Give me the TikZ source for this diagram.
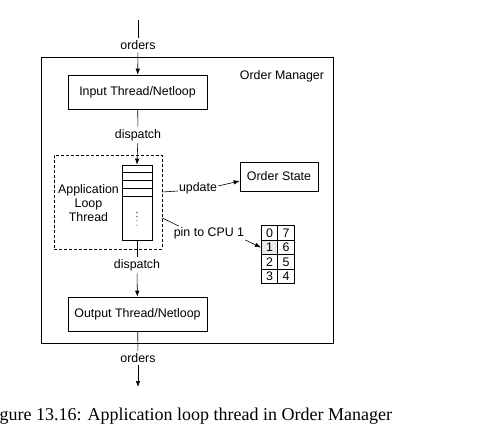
\documentclass[tikz,border=0pt]{standalone}
\usepackage{fontspec}
\setmainfont{Liberation Sans}
\newfontfamily\capfont{Liberation Serif}
\usetikzlibrary{arrows.meta}
\begin{document}
\begin{tikzpicture}[x=1pt,y=-1pt,
  ln/.style={line width=0.6pt},
  lbl/.style={font=\fontsize{12.4}{14}\selectfont, inner sep=2.5pt},
  box/.style={draw, line width=0.6pt, font=\fontsize{12.4}{14}\selectfont, inner sep=0pt},
  arr/.style={line width=0.6pt, -{Latex[length=6pt,width=4.5pt]}},
  cell/.style={draw, line width=0.6pt, minimum width=16.5pt, minimum height=14.5pt, inner sep=0pt, font=\fontsize{12.4}{14}\selectfont},
]
\useasboundingbox (0,0) rectangle (493,447);
% outer box
\node[draw, ln, minimum width=292pt, minimum height=286pt, inner sep=0pt] (om) at (187,200) {};
\node[lbl] (omlabel) at (282,76) {Order Manager};
% input / output
\node[box, minimum width=139pt, minimum height=34pt] (input) at (137.5,92) {Input Thread/Netloop};
\node[box, minimum width=139pt, minimum height=34pt] (output) at (137.5,314) {Output Thread/Netloop};
% application loop
\node[draw, ln, dashed, dash pattern=on 3pt off 2pt, minimum width=108pt, minimum height=94pt, inner sep=0pt] (appbox) at (108,202) {};
\node[draw, ln, minimum width=30pt, minimum height=75pt, inner sep=0pt] (queue) at (137,202.5) {};
\foreach \d in {8,16,24,32}
  \draw[ln] ([yshift=-\d pt]queue.north west) -- ([yshift=-\d pt]queue.north east);
\foreach \yy in {212.5,216.7,220.9,225.1}
  \fill (137,\yy) circle (0.55pt);
\node[lbl, align=center, inner sep=0pt] (applabel) at (88.5,203) {Application\\Loop\\Thread};
% order state
\node[box, minimum width=78pt, minimum height=29pt] (ostate) at (279,176.5) {Order State};
% cpu grid
\node[cell] (c00) at (269.5,233) {0};
\node[cell] (c01) at (286,233) {7};
\node[cell, fill=black!8] (c10) at (269.5,247.5) {1};
\node[cell] (c11) at (286,247.5) {6};
\node[cell] (c20) at (269.5,262) {2};
\node[cell] (c21) at (286,262) {5};
\node[cell] (c30) at (269.5,276.5) {3};
\node[cell] (c31) at (286,276.5) {4};
% connectors
\coordinate (topin) at (138,20);
\coordinate (botout) at (138,387);
\node[lbl] (o1) at (138,45) {orders};
\node[lbl] (d1) at (138,135) {dispatch};
\node[lbl] (d2) at (137,265) {dispatch};
\node[lbl] (o2) at (138,358) {orders};
\draw[ln] (topin) -- (o1);
\draw[arr] (o1) -- (input);
\draw[ln] (input) -- (d1);
\draw[arr] (d1) -- (queue.north);
\draw[ln] (queue.south) -- (d2);
\draw[arr] (d2) -- (output);
\draw[ln] (output) -- (o2);
\draw[arr] (o2) -- (botout);
\node[lbl, inner sep=1pt] (upd) at (198,188) {update};
\node[lbl, inner sep=1pt] (pin) at (209,233) {pin to CPU 1};
\draw[ln] ([yshift=10pt]appbox.east) -- ([yshift=-3pt]upd.west);
\draw[arr] ([yshift=2pt]upd.east) -- ([yshift=-4.5pt]ostate.west);
\draw[ln] ([yshift=-16pt]appbox.east) -- ([xshift=6pt]pin.north west);
\draw[arr] (pin.south east) -- (c10.west);
% caption
\node[anchor=base west, inner sep=0pt, font=\capfont\fontsize{18}{20}\selectfont] (caption) at (-0.5,420) {gure 13.16: Application loop thread in Order Manager};
\end{tikzpicture}
\end{document}
